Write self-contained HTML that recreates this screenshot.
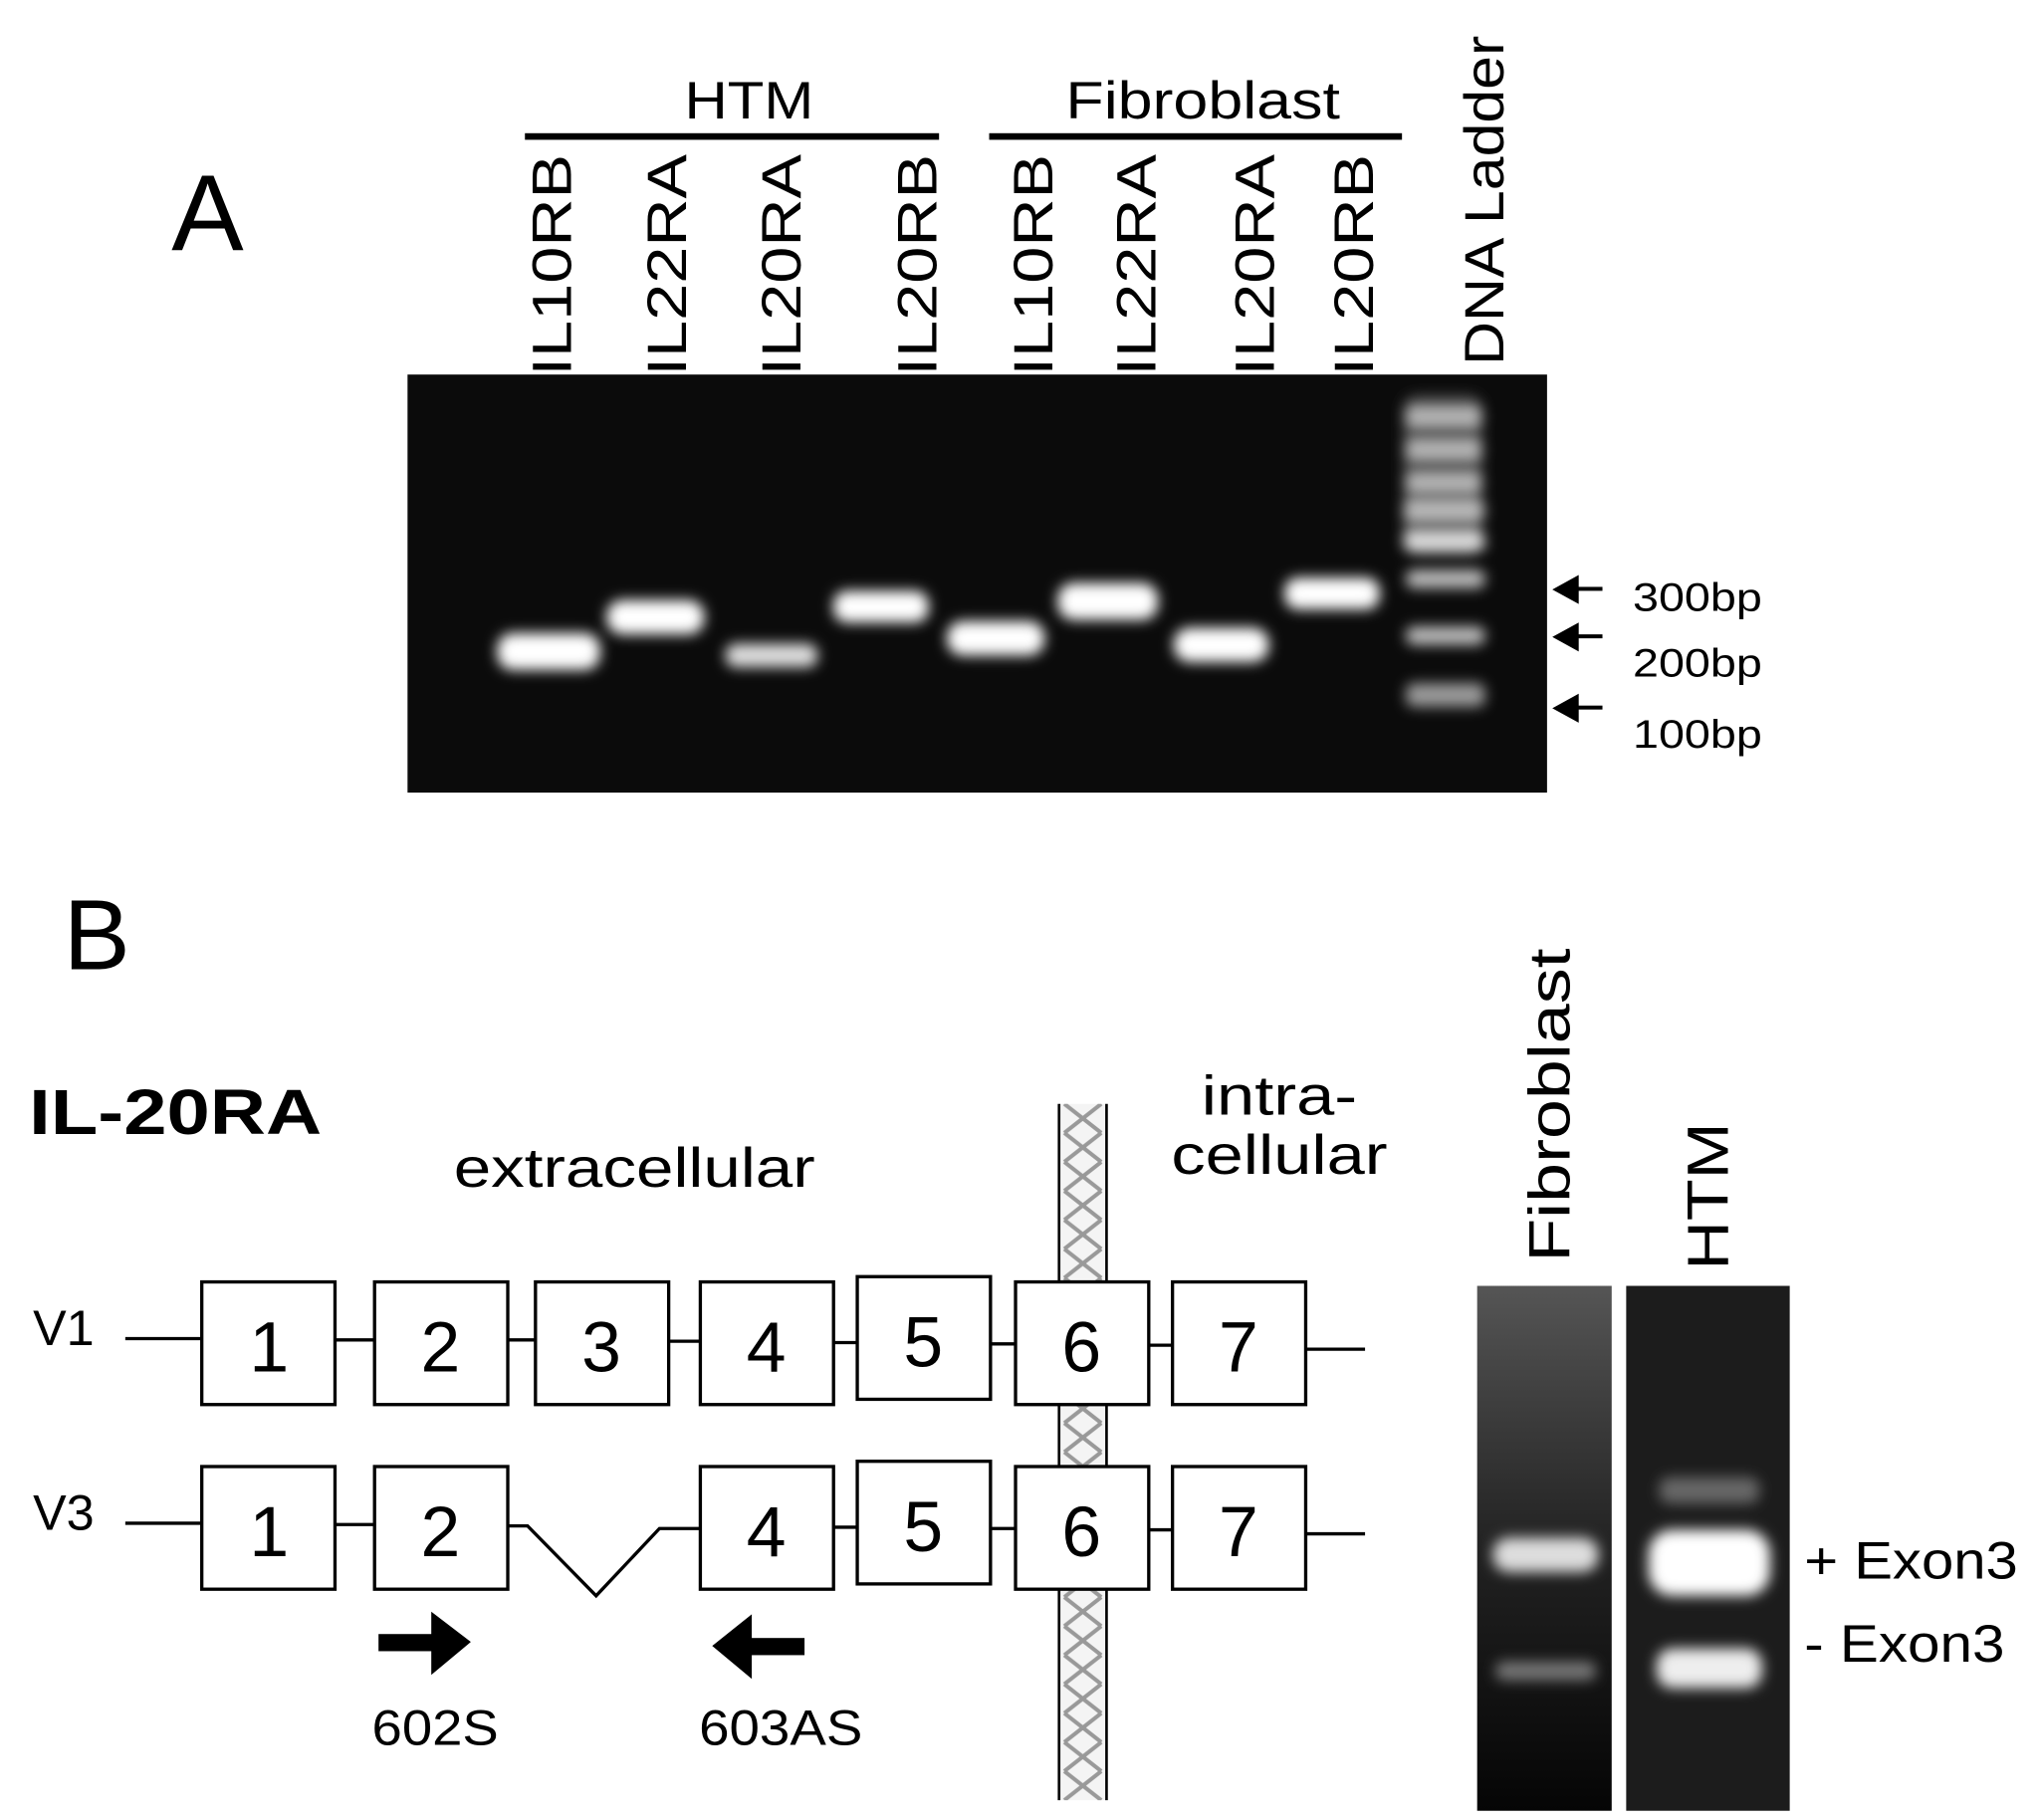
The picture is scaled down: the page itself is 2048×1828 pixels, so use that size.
<!DOCTYPE html>
<html><head><style>html,body{margin:0;padding:0;background:#fff}svg{display:block}</style></head><body>
<svg width="2048" height="1828" viewBox="0 0 1546 1380" preserveAspectRatio="none" xmlns="http://www.w3.org/2000/svg" font-family="Liberation Sans, sans-serif">
<defs>
<filter id="b" x="-50%" y="-50%" width="200%" height="200%"><feGaussianBlur stdDeviation="5"/></filter>
<filter id="b2" x="-50%" y="-50%" width="200%" height="200%"><feGaussianBlur stdDeviation="8"/></filter>
<pattern id="hx" width="36" height="22" patternUnits="userSpaceOnUse" x="803" y="837"><path d="M4 0 L32 22 M32 0 L4 22" stroke="#999" stroke-width="3"/></pattern>
<linearGradient id="fg" x1="0" y1="0" x2="0" y2="1"><stop offset="0" stop-color="#555"/><stop offset="0.5" stop-color="#222"/><stop offset="1" stop-color="#050505"/></linearGradient>
</defs>
<text x="130" y="190" font-size="82">A</text>
<text x="568" y="90" font-size="40" text-anchor="middle" textLength="98" lengthAdjust="spacingAndGlyphs">HTM</text>
<rect x="398" y="101" width="314" height="5" fill="#000"/>
<text x="912" y="90" font-size="40" text-anchor="middle" textLength="208" lengthAdjust="spacingAndGlyphs">Fibroblast</text>
<rect x="750" y="101" width="313" height="5" fill="#000"/>
<g font-size="42">
<text transform="translate(433,285) rotate(-90)" textLength="168" lengthAdjust="spacingAndGlyphs">IL10RB</text>
<text transform="translate(520,285) rotate(-90)" textLength="168" lengthAdjust="spacingAndGlyphs">IL22RA</text>
<text transform="translate(607,285) rotate(-90)" textLength="168" lengthAdjust="spacingAndGlyphs">IL20RA</text>
<text transform="translate(710,285) rotate(-90)" textLength="168" lengthAdjust="spacingAndGlyphs">IL20RB</text>
<text transform="translate(798,285) rotate(-90)" textLength="168" lengthAdjust="spacingAndGlyphs">IL10RB</text>
<text transform="translate(876,285) rotate(-90)" textLength="168" lengthAdjust="spacingAndGlyphs">IL22RA</text>
<text transform="translate(966,285) rotate(-90)" textLength="168" lengthAdjust="spacingAndGlyphs">IL20RA</text>
<text transform="translate(1041,285) rotate(-90)" textLength="168" lengthAdjust="spacingAndGlyphs">IL20RB</text>
<text transform="translate(1140,277) rotate(-90)" textLength="250" lengthAdjust="spacingAndGlyphs">DNA Ladder</text>
</g>
<rect x="309" y="284" width="864" height="317" fill="#0b0b0b"/>
<g fill="#fff" filter="url(#b)">
<rect x="377" y="480" width="78" height="28" rx="12"/>
<rect x="460" y="455" width="74" height="26" rx="12"/>
<rect x="550" y="488" width="70" height="18" rx="8" fill="#ddd"/>
<rect x="632" y="448" width="72" height="24" rx="10"/>
<rect x="718" y="471" width="74" height="26" rx="12"/>
<rect x="802" y="442" width="76" height="28" rx="12"/>
<rect x="890" y="476" width="72" height="26" rx="12"/>
<rect x="974" y="438" width="72" height="24" rx="10"/>
</g>
<g fill="#bbb" filter="url(#b)">
<rect x="1064" y="300" width="60" height="120" rx="10" fill="#555"/>
<rect x="1066" y="310" width="58" height="12" rx="6"/>
<rect x="1066" y="335" width="58" height="12" rx="6"/>
<rect x="1066" y="360" width="58" height="12" rx="6"/>
<rect x="1064" y="380" width="62" height="14" rx="6"/>
<rect x="1064" y="404" width="62" height="14" rx="6" fill="#ddd"/>
<rect x="1066" y="432" width="60" height="14" rx="6"/>
<rect x="1066" y="475" width="60" height="14" rx="6"/>
<rect x="1066" y="518" width="60" height="18" rx="6" fill="#999"/>
</g>
<g fill="#000">
<path d="M1177 447 L1197 436 L1197 458 Z"/><rect x="1195" y="445" width="20" height="3"/>
<path d="M1177 483 L1197 472 L1197 494 Z"/><rect x="1195" y="481" width="20" height="3"/>
<path d="M1177 537 L1197 526 L1197 548 Z"/><rect x="1195" y="535" width="20" height="3"/>
</g>
<g font-size="30">
<text x="1238" y="463" textLength="98" lengthAdjust="spacingAndGlyphs">300bp</text>
<text x="1238" y="513" textLength="98" lengthAdjust="spacingAndGlyphs">200bp</text>
<text x="1238" y="567" textLength="98" lengthAdjust="spacingAndGlyphs">100bp</text>
</g>
<text x="48" y="735" font-size="76">B</text>
<text x="22" y="860" font-size="48" font-weight="bold" textLength="222" lengthAdjust="spacingAndGlyphs">IL-20RA</text>
<text x="481" y="900" font-size="42" text-anchor="middle" textLength="274" lengthAdjust="spacingAndGlyphs">extracellular</text>
<text x="970" y="845" font-size="42" text-anchor="middle" textLength="118" lengthAdjust="spacingAndGlyphs">intra-</text>
<text x="970" y="890" font-size="42" text-anchor="middle" textLength="164" lengthAdjust="spacingAndGlyphs">cellular</text>
<rect x="803" y="837" width="36" height="528" fill="#f4f4f4"/>
<rect x="803" y="837" width="36" height="528" fill="url(#hx)"/>
<line x1="803" y1="837" x2="803" y2="1365" stroke="#000" stroke-width="2"/>
<line x1="839" y1="837" x2="839" y2="1365" stroke="#000" stroke-width="2"/>
<g stroke="#000" stroke-width="2.5" fill="none">
<path d="M95 1015 H153 M254 1016 H284 M385 1016 H406 M507 1017 H531 M632 1018 H650 M751 1019 H770 M871 1020 H889 M990 1023 H1035"/>
<path d="M95 1155 H153 M254 1156 H284 M385 1157 H400 L452 1210 L500 1159 H531 M632 1158 H650 M751 1159 H770 M871 1160 H889 M990 1163 H1035"/>
</g>
<g stroke="#000" stroke-width="2.5" fill="#fff">
<rect x="153" y="972" width="101" height="93"/><rect x="284" y="972" width="101" height="93"/><rect x="406" y="972" width="101" height="93"/><rect x="531" y="972" width="101" height="93"/><rect x="650" y="968" width="101" height="93"/><rect x="770" y="972" width="101" height="93"/><rect x="889" y="972" width="101" height="93"/>
<rect x="153" y="1112" width="101" height="93"/><rect x="284" y="1112" width="101" height="93"/><rect x="531" y="1112" width="101" height="93"/><rect x="650" y="1108" width="101" height="93"/><rect x="770" y="1112" width="101" height="93"/><rect x="889" y="1112" width="101" height="93"/>
</g>
<g font-size="54" text-anchor="middle">
<text x="204" y="1040">1</text><text x="334" y="1040">2</text><text x="456" y="1040">3</text><text x="581" y="1040">4</text><text x="700" y="1036">5</text><text x="820" y="1040">6</text><text x="939" y="1040">7</text>
<text x="204" y="1180">1</text><text x="334" y="1180">2</text><text x="581" y="1180">4</text><text x="700" y="1176">5</text><text x="820" y="1180">6</text><text x="939" y="1180">7</text>
</g>
<text x="25" y="1020" font-size="38">V1</text>
<text x="25" y="1160" font-size="38">V3</text>
<g fill="#000">
<rect x="287" y="1239" width="42" height="13"/><path d="M327 1222 L357 1245 L327 1270 Z"/>
<rect x="567" y="1242" width="43" height="13"/><path d="M570 1224 L540 1248 L570 1273 Z"/>
</g>
<text x="330" y="1323" font-size="38" text-anchor="middle" textLength="96" lengthAdjust="spacingAndGlyphs">602S</text>
<text x="592" y="1323" font-size="38" text-anchor="middle" textLength="124" lengthAdjust="spacingAndGlyphs">603AS</text>
<text transform="translate(1190,957) rotate(-90)" font-size="44" textLength="238" lengthAdjust="spacingAndGlyphs">Fibroblast</text>
<text transform="translate(1310,963) rotate(-90)" font-size="44" textLength="112" lengthAdjust="spacingAndGlyphs">HTM</text>
<rect x="1120" y="975" width="102" height="398" fill="url(#fg)"/>
<rect x="1233" y="975" width="124" height="398" fill="#1c1c1c"/>
<g filter="url(#b)">
<rect x="1132" y="1166" width="80" height="26" rx="12" fill="#ddd"/>
<rect x="1134" y="1260" width="76" height="14" rx="6" fill="#777"/>
<rect x="1258" y="1120" width="76" height="20" rx="8" fill="#666"/>
<rect x="1250" y="1160" width="92" height="50" rx="18" fill="#fff"/>
<rect x="1256" y="1250" width="80" height="30" rx="12" fill="#eee"/>
</g>
<text x="1368" y="1197" font-size="40" textLength="162" lengthAdjust="spacingAndGlyphs">+ Exon3</text>
<text x="1368" y="1260" font-size="40" textLength="152" lengthAdjust="spacingAndGlyphs">- Exon3</text>
</svg>
</body></html>
